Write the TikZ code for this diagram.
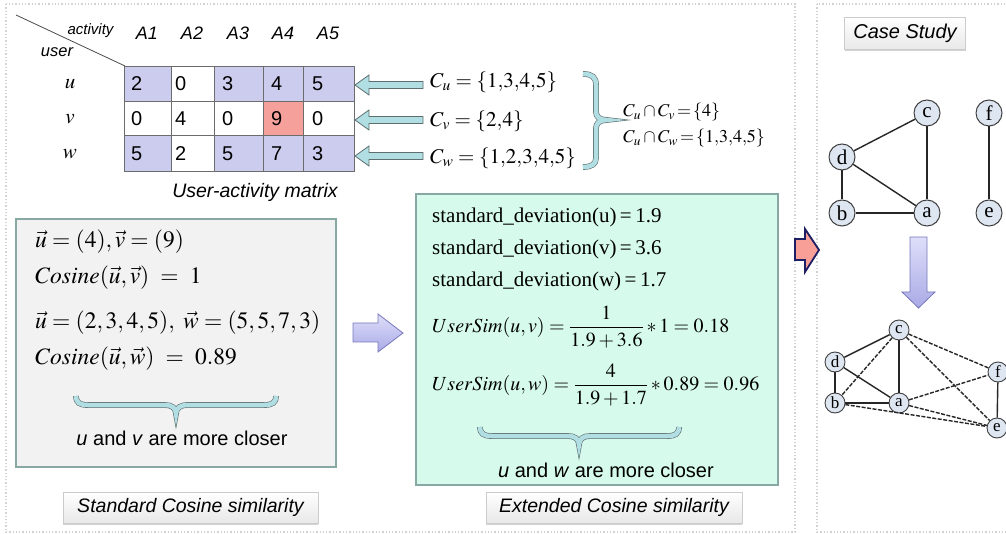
\documentclass[tikz,border=0pt]{standalone}
\usepackage{mathptmx}
\usepackage{fontspec}
\setmainfont{Liberation Serif}
\setsansfont{Liberation Sans}
\usetikzlibrary{shadows}
\newcommand\myfs[1]{\fontsize{#1}{#1}\selectfont}
\definecolor{cellP}{RGB}{204,204,238}
\definecolor{cellS}{RGB}{245,160,155}
\definecolor{cyanF}{RGB}{176,222,226}
\definecolor{cyanD}{RGB}{95,110,112}
\definecolor{boxG}{RGB}{242,242,242}
\definecolor{boxM}{RGB}{214,250,236}
\definecolor{boxB}{RGB}{136,168,164}
\definecolor{lavL}{RGB}{222,222,250}
\definecolor{lavD}{RGB}{170,170,230}
\definecolor{lavE}{RGB}{120,120,190}
\definecolor{redF}{RGB}{248,160,152}
\definecolor{navy}{RGB}{30,30,100}
\definecolor{nodeF}{RGB}{222,230,242}
\begin{document}
\begin{tikzpicture}[x=1pt,y=-1pt,
  panel/.style={draw=gray!35, dotted, line width=1.3pt},
  cellbox/.style={draw=gray!85!black, line width=0.7pt},
  num/.style={anchor=west, font=\sffamily\myfs{20}, inner sep=0pt},
  hdr/.style={font=\sffamily\itshape\myfs{18}},
  bigbox/.style={draw=boxB, line width=1.3pt},
  labelbox/.style={draw=gray!40, top color=white, bottom color=gray!18, font=\sffamily\itshape\myfs{19.5}, minimum height=31pt, inner sep=0pt, drop shadow={shadow xshift=0pt, shadow yshift=-2pt, opacity=0.35}},
  cyanarrow/.style={fill=cyanF, draw=cyanD, line width=0.8pt},
  bracestyle/.style={draw=cyanD, double=cyanF, double distance=4.5pt, line width=0.6pt},
  lavarrow/.style={top color=lavL, bottom color=lavD, draw=lavE, line width=0.8pt},
  gnode/.style={circle, draw=black!75, fill=nodeF, line width=1pt, minimum size=26pt, inner sep=0pt, font=\myfs{21}},
  snode/.style={circle, draw=black!75, fill=nodeF, line width=0.9pt, minimum size=20pt, inner sep=0pt, font=\myfs{17}},
  gedge/.style={line width=1.4pt, draw=black!85},
  dedge/.style={line width=1.4pt, draw=black!85, dash pattern=on 4pt off 1.5pt}
]
\useasboundingbox (0,0) rectangle (1006,534);
\clip (0,0) rectangle (1006,534);
\fill[white] (0,0) rectangle (1006,534);

% panels
\draw[panel] (6,4) rectangle (795,532);
\draw[panel] (817,4) rectangle (1020,532);

% ---------- matrix ----------
\draw[line width=0.8pt, black!70] (16,15) -- (125,66);
\node[anchor=east, font=\sffamily\itshape\myfs{15}] (lact) at (117,31) {activity};
\node[font=\sffamily\itshape\myfs{16.5}] (luser) at (57,52) {user};
\foreach \n/\x in {1/147,2/192,3/238,4/283,5/328}
  \node[hdr] (h\n) at (\x,33) {A\n};
\foreach \xa/\xb/\ya/\yb/\c in {
  124/171/66/101/cellP, 171/214/66/101/white, 214/263/66/101/cellP, 263/303/66/101/cellP, 303/354/66/101/cellP,
  124/171/101/135/white, 171/214/101/135/white, 214/263/101/135/white, 263/303/101/135/cellS, 303/354/101/135/white,
  124/171/135/171/cellP, 171/214/135/171/white, 214/263/135/171/cellP, 263/303/135/171/cellP, 303/354/135/171/cellP}
  \draw[cellbox, fill=\c] (\xa,\ya) rectangle (\xb,\yb);
\foreach \r/\y/\va/\vb/\vc/\vd/\ve in {1/84/2/0/3/4/5, 2/119/0/4/0/9/0, 3/154/5/2/5/7/3}{
  \node[num] (m\r1) at (131,\y) {\va};
  \node[num] (m\r2) at (175,\y) {\vb};
  \node[num] (m\r3) at (222,\y) {\vc};
  \node[num] (m\r4) at (271,\y) {\vd};
  \node[num] (m\r5) at (312,\y) {\ve};
}
\node[font=\myfs{21}] (ru) at (70,84) {$u$};
\node[font=\myfs{21}] (rv) at (70,119) {$v$};
\node[font=\myfs{21}] (rw) at (70,154) {$w$};
\node[font=\sffamily\itshape\myfs{19.5}] (mcap) at (255,192) {User-activity matrix};

% cyan arrows
\foreach \Y in {85,120,156}
  \draw[cyanarrow] (355,\Y) -- (369,\Y-10) -- (369,\Y-3.5) -- (423,\Y-3.5) -- (423,\Y+3.5) -- (369,\Y+3.5) -- (369,\Y+10) -- cycle;

\node[anchor=west, font=\myfs{21}, inner sep=0pt] (cu) at (430,82) {$C_u = \{1{,}3{,}4{,}5\}$};
\node[anchor=west, font=\myfs{21}, inner sep=0pt] (cv) at (430,121) {$C_v = \{2{,}4\}$};
\node[anchor=west, font=\myfs{21}, inner sep=0pt] (cw) at (430,158) {$C_w = \{1{,}2{,}3{,}4{,}5\}$};

% right brace
\draw[bracestyle] (583,74) .. controls (592,74) and (596,77) .. (596,85) -- (596,112) .. controls (596,117) and (600,120) .. (607,120) .. controls (600,120) and (596,123) .. (596,128) -- (596,158) .. controls (596,164) and (592,167) .. (583,167);
\node[anchor=west, font=\myfs{18}, inner sep=0pt] (i1) at (623,112) {$C_u \cap C_v \!=\! \{4\}$};
\node[anchor=west, font=\myfs{18}, inner sep=0pt] (i2) at (623,138) {$C_u \cap C_w \!=\! \{1{,}3{,}4{,}5\}$};

% ---------- left box ----------
\draw[bigbox, fill=boxG] (16,219) rectangle (336,467);
\node[anchor=west, font=\myfs{23.5}, inner sep=0pt] (l1) at (35,242) {$\vec u = (4), \vec v = (9)$};
\node[anchor=west, font=\myfs{23.5}, inner sep=0pt] (l2) at (35,278) {$Cosine(\vec u,\vec v)\ =\ 1$};
\node[anchor=west, font=\myfs{23.5}, inner sep=0pt] (l3) at (35,323) {$\vec u = (2,3,4,5),\ \vec w = (5,5,7,3)$};
\node[anchor=west, font=\myfs{23.5}, inner sep=0pt] (l4) at (35,359) {$Cosine(\vec u,\vec w)\ =\ 0.89$};
\draw[bracestyle] (76,396) .. controls (76,403) and (80,405) .. (88,405) -- (165,405) .. controls (172,405) and (176,408) .. (176,414) .. controls (176,408) and (180,405) .. (188,405) -- (264,405) .. controls (272,405) and (276,403) .. (276,396);
\node[font=\sffamily\myfs{20}] (l5) at (182,438) {\textit{u} and \textit{v} are more closer};
\node[labelbox, minimum width=255pt] (lab1) at (190.5,507.5) {Standard Cosine similarity};

% middle arrow
\draw[lavarrow] (353,323) -- (378,323) -- (378,314) -- (403,333) -- (378,352) -- (378,342) -- (353,342) -- cycle;

% ---------- middle box ----------
\draw[bigbox, fill=boxM] (416,194) rectangle (778,485);
\node[anchor=west, font=\myfs{21}, inner sep=0pt] (s1) at (432,217) {standard\_deviation(u)\,=\,1.9};
\node[anchor=west, font=\myfs{21}, inner sep=0pt] (s2) at (432,249) {standard\_deviation(v)\,=\,3.6};
\node[anchor=west, font=\myfs{21}, inner sep=0pt] (s3) at (432,281) {standard\_deviation(w)\,=\,1.7};
\node[anchor=west, font=\myfs{20}, inner sep=0pt] (s4) at (432,327) {$\displaystyle UserSim(u,v) = \frac{1}{1.9+3.6}*1 = 0.18$};
\node[anchor=west, font=\myfs{20}, inner sep=0pt] (s5) at (432,385) {$\displaystyle UserSim(u,w) = \frac{4}{1.9+1.7}*0.89 = 0.96$};
\draw[bracestyle] (480,427) .. controls (480,434) and (484,436) .. (492,436) -- (568,436) .. controls (575,436) and (579,439) .. (579,445) .. controls (579,439) and (583,436) .. (590,436) -- (667,436) .. controls (675,436) and (679,434) .. (679,427);
\node[font=\sffamily\myfs{20}] (s6) at (606,470) {\textit{u} and \textit{w} are more closer};
\node[labelbox, minimum width=256pt] (lab2) at (614,507.5) {Extended Cosine similarity};

% red arrow
\draw[fill=redF, draw=navy, line width=1.8pt, line join=miter] (795,239) -- (805,239) -- (805,229) -- (819,250) -- (805,272) -- (805,260) -- (795,260) -- cycle;

% ---------- right panel ----------
\node[labelbox, minimum width=121pt, minimum height=32pt, font=\sffamily\itshape\myfs{20}] (lab3) at (905,33.5) {Case Study};

\node[gnode] (tc) at (927,113) {c};
\node[gnode] (tf) at (989,113) {f};
\node[gnode] (td) at (842,157) {d};
\node[gnode] (tb) at (842,213) {b};
\node[gnode] (ta) at (927,213) {a};
\node[gnode] (te) at (989,213) {e};
\draw[gedge] (td) -- (tc);
\draw[gedge] (td) -- (ta);
\draw[gedge] (td) -- (tb);
\draw[gedge] (tb) -- (ta);
\draw[gedge] (tc) -- (ta);
\draw[gedge] (tf) -- (te);

% down arrow
\draw[lavarrow] (910,237) -- (927,237) -- (927,292) -- (935,292) -- (918.5,308) -- (902,292) -- (910,292) -- cycle;

\node[snode] (bc) at (899,330) {c};
\node[snode] (bd) at (835,362) {d};
\node[snode] (bf) at (998,372) {f};
\node[snode] (bb) at (835,403) {b};
\node[snode] (ba) at (899,403) {a};
\node[snode] (be) at (997,428) {e};
\draw[gedge] (bc) -- (bd);
\draw[gedge] (bc) -- (ba);
\draw[gedge] (bd) -- (bb);
\draw[gedge] (bd) -- (ba);
\draw[gedge, line width=2.2pt] (bb) -- (ba);
\draw[gedge] (bf) -- (be);
\draw[dedge] (bc) -- (bb);
\draw[dedge] (bc) -- (bf);
\draw[dedge] (bc) -- (be);
\draw[dedge] (ba) -- (bf);
\draw[dedge] (ba) -- (be);
\draw[dedge] (bb) -- (be);
\end{tikzpicture}
\end{document}
